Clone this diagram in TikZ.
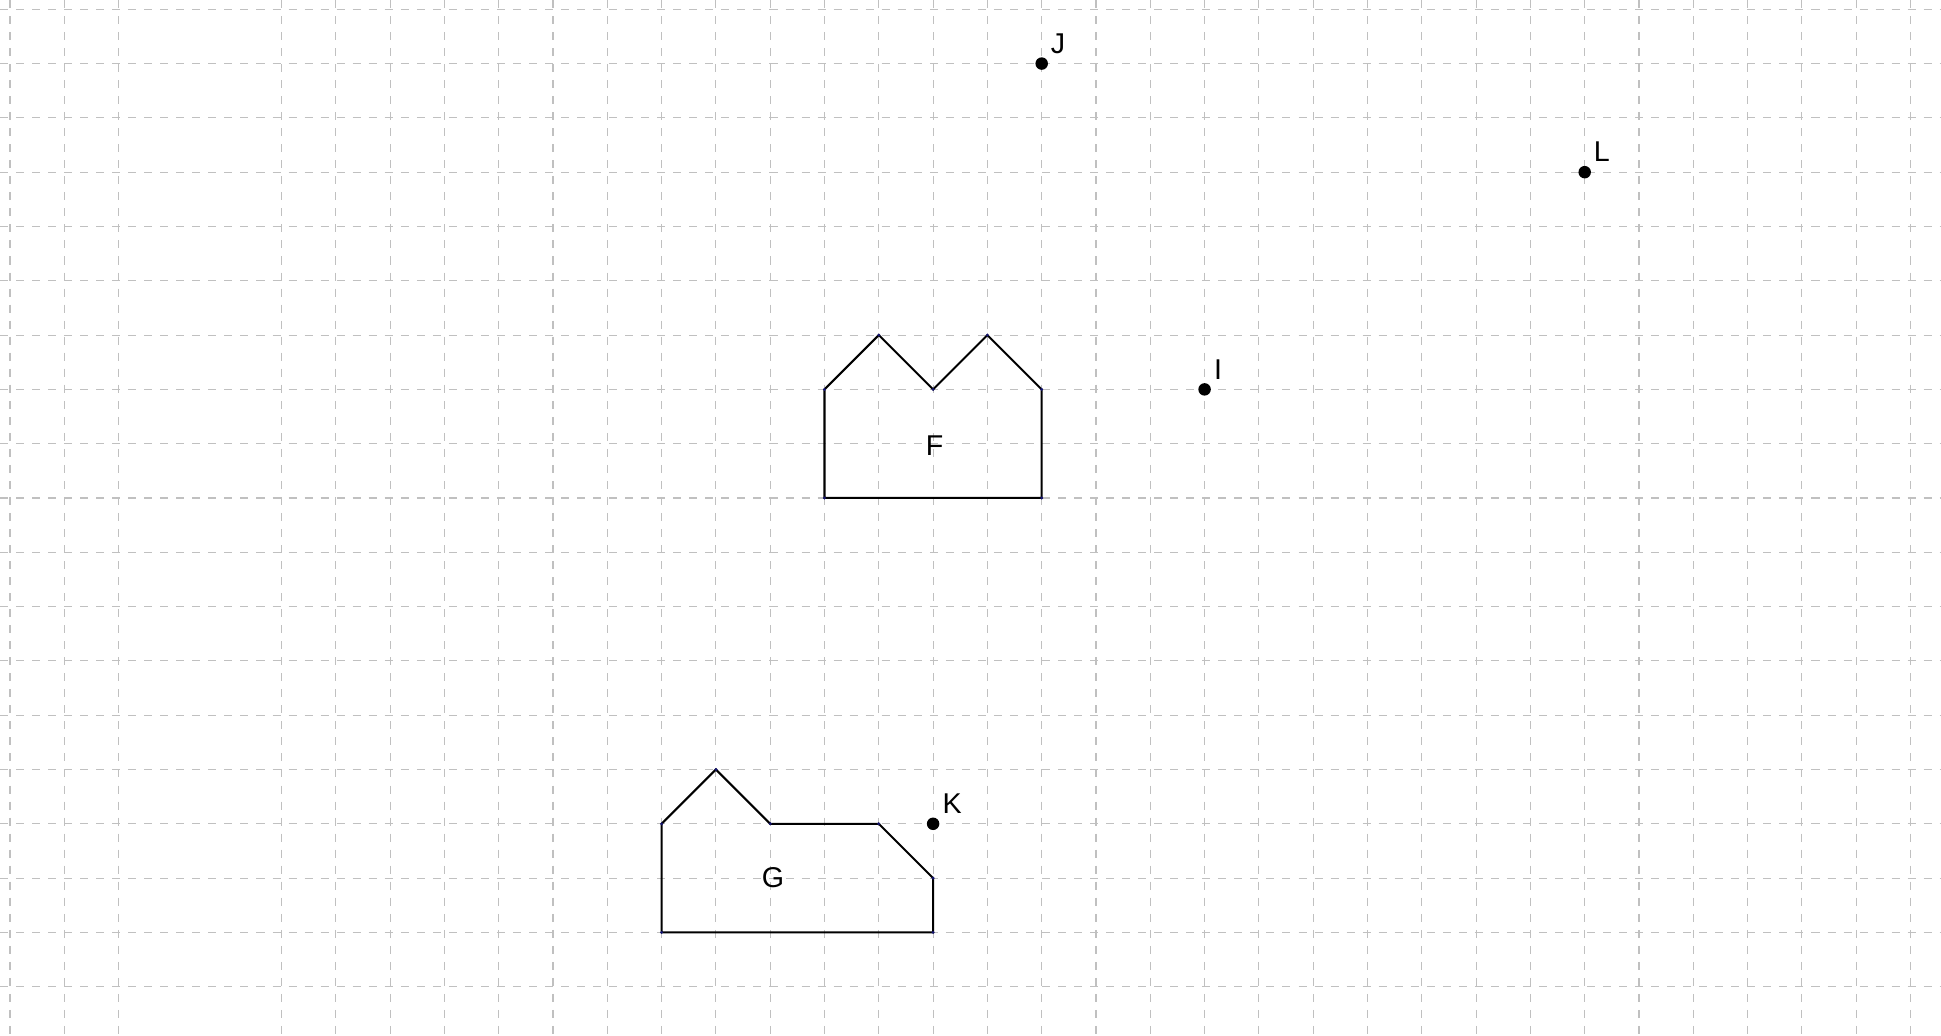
\documentclass[tikz,border=0pt]{standalone}
\usepackage{fontspec}
\setmainfont{Liberation Sans}
\definecolor{gridgray}{RGB}{192,192,192}
\definecolor{vtxblue}{RGB}{20,20,110}
\begin{document}
\begin{tikzpicture}[x=1cm,y=-1cm,
  gridline/.style={draw=gridgray,line width=0.6pt,dash pattern=on 4.2pt off 4.2pt},
  poly/.style={draw=black,line width=1.05pt,line join=miter},
  ptdot/.style={circle,fill=black,inner sep=0pt,minimum size=0.23cm},
  vtx/.style={fill=vtxblue},
  ptlabel/.style={anchor=base west,inner sep=0pt,font=\fontsize{15}{17}\selectfont},
  shapelabel/.style={anchor=center,inner sep=0pt,font=\fontsize{15}{17}\selectfont}]
\useasboundingbox[fill=white] (-0.184,-0.171) rectangle (35.562,18.908);
% grid
\foreach \k in {0,1,2,5,6,...,35}{
  \draw[gridline] (\k,-0.171) -- (\k,18.908);
}
\foreach \j in {0,...,18}{
  \draw[gridline] (-0.184,\j) -- (35.562,\j);
}
% polygon F
\coordinate (F1) at (15,7);
\coordinate (F2) at (16,6);
\coordinate (F3) at (17,7);
\coordinate (F4) at (18,6);
\coordinate (F5) at (19,7);
\coordinate (F6) at (19,9);
\coordinate (F7) at (15,9);
\draw[poly] (F1) -- (F2) -- (F3) -- (F4) -- (F5) -- (F6) -- (F7) -- cycle;
\foreach \v in {F1,F2,F3,F4,F5,F6,F7}{\fill[vtx] (\v) circle (0.03);}
\node[shapelabel] (Flabel) at (17.03,8.03) {F};
% polygon G
\coordinate (G1) at (12,15);
\coordinate (G2) at (13,14);
\coordinate (G3) at (14,15);
\coordinate (G4) at (16,15);
\coordinate (G5) at (17,16);
\coordinate (G6) at (17,17);
\coordinate (G7) at (12,17);
\draw[poly] (G1) -- (G2) -- (G3) -- (G4) -- (G5) -- (G6) -- (G7) -- cycle;
\foreach \v in {G1,G2,G3,G4,G5,G6,G7}{\fill[vtx] (\v) circle (0.03);}
\node[shapelabel] (Glabel) at (14.05,16.0) {G};
% points
\node[ptdot] (J) at (19,1) {};
\node[ptdot] (L) at (29,3) {};
\node[ptdot] (I) at (22,7) {};
\node[ptdot] (K) at (17,15) {};
\node[ptlabel] (Jl) at ([xshift=0.16cm,yshift=0.19cm]J.center) {J};
\node[ptlabel] (Ll) at ([xshift=0.16cm,yshift=0.19cm]L.center) {L};
\node[ptlabel] (Il) at ([xshift=0.17cm,yshift=0.19cm]I.center) {I};
\node[ptlabel] (Kl) at ([xshift=0.17cm,yshift=0.19cm]K.center) {K};
\end{tikzpicture}
\end{document}
